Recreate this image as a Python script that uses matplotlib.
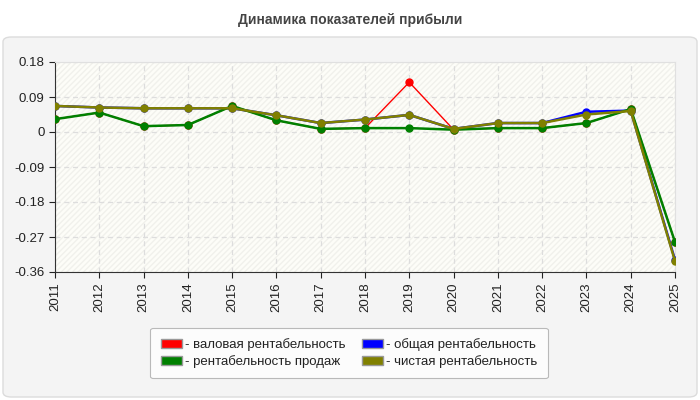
import matplotlib
matplotlib.use('Agg')
import matplotlib.pyplot as plt
from matplotlib.patches import FancyBboxPatch, Patch
import numpy as np

plt.rcParams['font.family'] = ['Liberation Sans', 'DejaVu Sans']

years = [str(y) for y in range(2011, 2026)]
gross = [0.033, 0.050, 0.015, 0.018, 0.067, 0.030, 0.008, 0.010, 0.128, 0.006, 0.010, 0.010, 0.023, 0.059, -0.283]
total = [0.067, 0.063, 0.061, 0.061, 0.061, 0.043, 0.023, 0.032, 0.044, 0.008, 0.023, 0.023, 0.052, 0.055, -0.329]
sales = [0.033, 0.050, 0.015, 0.018, 0.067, 0.030, 0.008, 0.010, 0.010, 0.006, 0.010, 0.010, 0.023, 0.059, -0.283]
net = [0.067, 0.063, 0.061, 0.061, 0.061, 0.043, 0.023, 0.032, 0.044, 0.008, 0.023, 0.023, 0.045, 0.054, -0.332]
yticks = [0.18, 0.09, 0, -0.09, -0.18, -0.27, -0.36]
ytick_labels = ['0.18', '0.09', '0', '-0.09', '-0.18', '-0.27', '-0.36']

fig = plt.figure(figsize=(7, 4), dpi=100)
fig.patch.set_facecolor('white')

# grey rounded panel behind the chart
panel = FancyBboxPatch((3/700, 3/400), 694/700, 360/400,
                       boxstyle='round,pad=0,rounding_size=0.012',
                       transform=fig.transFigure, facecolor='#f4f4f4',
                       edgecolor='#dcdcdc', linewidth=1, zorder=-10)
fig.patches.append(panel)

fig.text(0.5, 0.95, 'Динамика показателей прибыли', ha='center', va='center',
         fontsize=10, fontweight='bold', color='#444444')

ax = fig.add_axes([55/700, 128/400, 620/700, 210/400])
ax.set_facecolor('#fdfdf8')
ax.add_patch(plt.Rectangle((0, 0), 1, 1, transform=ax.transAxes, fill=False,
                           hatch='//////', edgecolor='#f1f1ec', linewidth=0, zorder=0))

x = np.arange(len(years))
ax.plot(x, gross, color='red', lw=1, marker='o', ms=5, zorder=3, label='- валовая рентабельность')
ax.plot(x, total, color='blue', lw=1.8, marker='o', ms=5, zorder=4, label='- общая рентабельность')
ax.plot(x, sales, color='green', lw=1.8, marker='o', ms=5, zorder=5, label='- рентабельность продаж')
ax.plot(x, net, color='olive', lw=1.8, marker='o', ms=5, zorder=6, label='- чистая рентабельность')

ax.set_xlim(0, len(years) - 1)
ax.set_ylim(-0.36, 0.18)
ax.set_xticks(x)
ax.set_xticklabels(years, rotation=90, fontsize=9.5)
ax.set_yticks(yticks)
ax.set_yticklabels(ytick_labels, fontsize=9.5)
ax.grid(True, color='#dddddd', linestyle=(0, (4, 3)), linewidth=0.9)
ax.set_axisbelow(True)
for s in ['top', 'right']:
    ax.spines[s].set_color('#e0e0e0')
for s in ['left', 'bottom']:
    ax.spines[s].set_color('#333333')
ax.tick_params(colors='#222222', length=4)

h, l = ax.get_legend_handles_labels()
cols = ['red', 'green', 'blue', 'olive']
labels = [l[0], l[2], l[1], l[3]]
handles = [Patch(facecolor=c, edgecolor='#999999') for c in cols]
leg = fig.legend(handles, labels, ncol=2, loc='center', bbox_to_anchor=(349/700, 1 - 353/400),
                 fontsize=9.5, frameon=True, fancybox=True, edgecolor='#aaaaaa',
                 facecolor='white', handlelength=1.6, handleheight=0.7,
                 handletextpad=0.2, columnspacing=1.3, labelspacing=0.3,
                 borderpad=0.8, labelcolor='#222222')
leg.get_frame().set_linewidth(0.8)

fig.savefig('out.png', dpi=100)
